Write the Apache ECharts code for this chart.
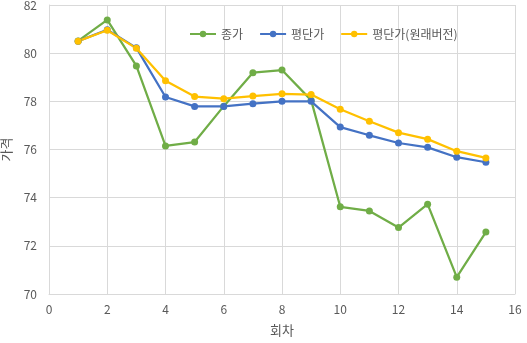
<!DOCTYPE html>
<html>
<head>
<meta charset="utf-8">
<script src="https://cdn.jsdelivr.net/npm/echarts@6/dist/echarts.min.js"></script>
<style>
  html, body { margin: 0; padding: 0; background: #fff; }
  #chart { width: 527px; height: 343px; }
</style>
</head>
<body>
<div id="chart"></div>
<script>
// 회차별 가격 데이터
const rounds = [1, 2, 3, 4, 5, 6, 7, 8, 9, 10, 11, 12, 13, 14, 15];
const closePrice = [80.51, 81.38, 79.47, 76.15, 76.31, 77.8, 79.19, 79.3, 78.05, 73.62, 73.45, 72.76, 73.73, 70.7, 72.57];
const avgPrice = [80.5, 80.97, 80.22, 78.18, 77.79, 77.79, 77.9, 78.0, 78.0, 76.93, 76.59, 76.27, 76.09, 75.68, 75.47];
const avgPriceOrig = [80.5, 80.95, 80.2, 78.85, 78.2, 78.11, 78.22, 78.31, 78.28, 77.67, 77.17, 76.7, 76.43, 75.93, 75.65];
const xTicks = [0, 2, 4, 6, 8, 10, 12, 14, 16];
const yTicks = [70, 72, 74, 76, 78, 80, 82];

const font = '"Noto Sans CJK KR", "Noto Sans", sans-serif';
const textColor = '#595959';
const gridColor = '#D9D9D9';

function pairs(ys) { return rounds.map((x, i) => [x, ys[i]]); }

function lineSeries(name, ys, color) {
  return {
    name: name,
    type: 'line',
    data: pairs(ys),
    symbol: 'circle',
    symbolSize: 7,
    lineStyle: { color: color, width: 2.25 },
    itemStyle: { color: color },
    animation: false
  };
}

const chart = echarts.init(document.getElementById('chart'));
chart.setOption({
  backgroundColor: '#fff',
  textStyle: { fontFamily: font },
  grid: { left: 49, right: 12, top: 5, bottom: 49, containLabel: false, outerBoundsMode: 'none' },
  legend: {
    top: 23,
    left: 184,
    itemWidth: 26,
    itemHeight: 8,
    itemGap: 16,
    textStyle: { color: textColor, fontSize: 12, fontFamily: font },
    data: ['종가', '평단가', '평단가(원래버전)']
  },
  xAxis: {
    type: 'value',
    min: xTicks[0],
    max: xTicks[xTicks.length - 1],
    interval: 2,
    name: '회차',
    nameLocation: 'middle',
    nameGap: 30,
    nameTextStyle: { color: textColor, fontSize: 13, fontFamily: font },
    axisLine: { show: true, lineStyle: { color: gridColor, width: 1 } },
    axisTick: { show: false },
    axisLabel: { color: textColor, fontSize: 12, margin: 9, fontFamily: font },
    splitLine: { show: true, lineStyle: { color: gridColor, width: 1 } }
  },
  yAxis: {
    type: 'value',
    min: yTicks[0],
    max: yTicks[yTicks.length - 1],
    interval: 2,
    name: '가격',
    nameLocation: 'middle',
    nameGap: 31,
    nameRotate: 90,
    nameTextStyle: { color: textColor, fontSize: 13, fontFamily: font },
    axisLine: { show: true, lineStyle: { color: gridColor, width: 1 } },
    axisTick: { show: false },
    axisLabel: { color: textColor, fontSize: 12, margin: 12, fontFamily: font },
    splitLine: { show: true, lineStyle: { color: gridColor, width: 1 } }
  },
  series: [
    lineSeries('종가', closePrice, '#70AD47'),
    lineSeries('평단가', avgPrice, '#4472C4'),
    lineSeries('평단가(원래버전)', avgPriceOrig, '#FFC000')
  ]
});
</script>
</body>
</html>
